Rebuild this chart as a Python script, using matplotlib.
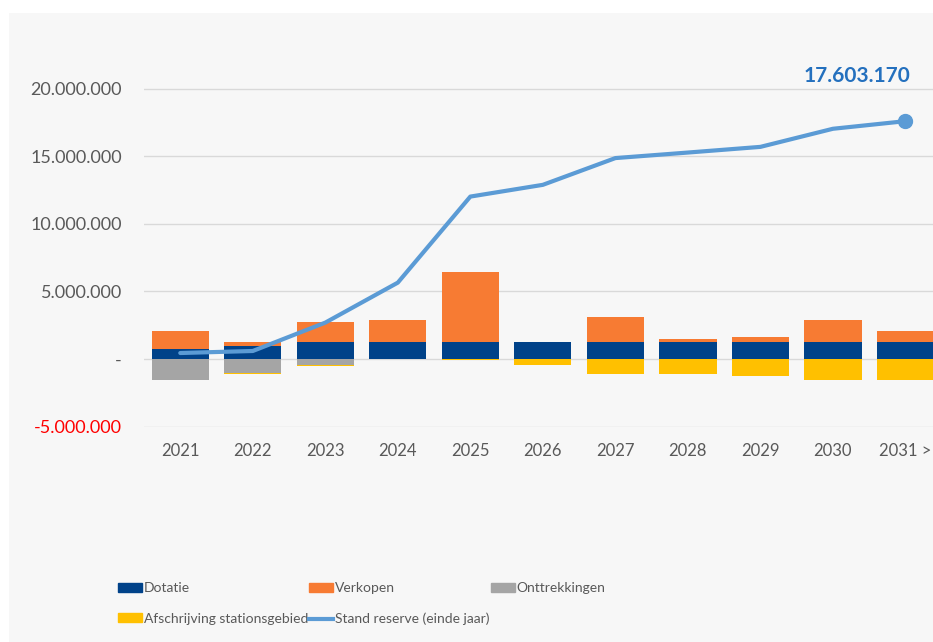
import matplotlib
matplotlib.use("Agg")
import matplotlib.pyplot as plt
import matplotlib.patches as patches
from matplotlib.lines import Line2D
from matplotlib.ticker import FuncFormatter

# ========================
# Data (euro)
# ========================
years = ["2021", "2022", "2023", "2024", "2025", "2026", "2027", "2028", "2029", "2030", "2031 >"]
dotatie = [760000, 990000, 1280000, 1280000, 1280000, 1280000, 1280000, 1280000, 1280000, 1280000, 1280000]
verkopen = [1290000, 250000, 1460000, 1610000, 5140000, 0, 1830000, 200000, 370000, 1630000, 820000]
onttrekkingen = [-1560000, -1060000, -480000, 0, -30000, 0, 0, 0, 0, 0, 0]
afschrijving = [-30000, -40000, -40000, 0, -30000, -440000, -1090000, -1090000, -1230000, -1560000, -1530000]
stand_reserve = [440000, 590000, 2690000, 5650000, 12020000, 12890000, 14870000, 15280000, 15700000, 17040000, 17603170]

C_DOT = "#004289"
C_VERK = "#F77B33"
C_ONTT = "#A5A5A5"
C_AFS = "#FFC000"
C_LINE = "#5B9BD5"
TXT = "#595959"

plt.rcParams["font.family"] = ["Lato", "DejaVu Sans"]

fig = plt.figure(figsize=(9.33, 6.42), dpi=100)
fig.patch.set_facecolor("white")
fig.patches.append(patches.Rectangle((9 / 933, 0), 1, 1 - 13 / 642, transform=fig.transFigure,
                                     facecolor="#F7F7F7", edgecolor="none", zorder=-10))

ax = fig.add_axes([144 / 933, 1 - 426.5 / 642, 1 - 144 / 933, (426.5 - 28) / 642])
ax.set_facecolor("none")

x = list(range(len(years)))
w = 0.79
ax.bar(x, dotatie, w, color=C_DOT, zorder=3)
ax.bar(x, verkopen, w, bottom=dotatie, color=C_VERK, zorder=3)
ax.bar(x, onttrekkingen, w, color=C_ONTT, zorder=3)
ax.bar(x, afschrijving, w, bottom=onttrekkingen, color=C_AFS, zorder=3)
ax.plot(x, stand_reserve, color=C_LINE, lw=3, solid_capstyle="round", zorder=4)
ax.plot(x[-1], stand_reserve[-1], "o", color=C_LINE, ms=10, zorder=5)

last = f"{stand_reserve[-1]:,.0f}".replace(",", ".")
ax.annotate(last, (x[-1], stand_reserve[-1]), xytext=(-35, 25), textcoords="offset points",
            ha="center", va="bottom", fontsize=15, fontweight="bold", color="#2470BE")

ax.set_xlim(-0.5, 10.38)
ax.set_ylim(-5000000, 24500000)
ax.set_yticks([-5000000, 0, 5000000, 10000000, 15000000, 20000000])


def fmt(v, pos):
    if v == 0:
        return "-"
    return f"{v:,.0f}".replace(",", ".")


ax.yaxis.set_major_formatter(FuncFormatter(fmt))
ax.set_xticks(x)
ax.set_xticklabels(years)
ax.grid(axis="y", color="#D9D9D9", lw=1, zorder=0)
for s in ax.spines.values():
    s.set_visible(False)
ax.tick_params(axis="both", length=0, labelsize=12, labelcolor=TXT)
ax.tick_params(axis="y", pad=16, labelsize=13)
ax.tick_params(axis="x", pad=12)
for lab in ax.get_yticklabels():
    if lab.get_text().startswith("-5"):
        lab.set_color("#FF0000")

# Legend (reordered so rows read left to right)
h_dot = patches.Patch(color=C_DOT, label="Dotatie")
h_verk = patches.Patch(color=C_VERK, label="Verkopen")
h_ontt = patches.Patch(color=C_ONTT, label="Onttrekkingen")
h_afs = patches.Patch(color=C_AFS, label="Afschrijving stationsgebied")
h_line = Line2D([], [], color=C_LINE, lw=3, label="Stand reserve (einde jaar)")
handles = [h_dot, h_afs, h_verk, h_line, h_ontt]
fig.legend(handles=handles, labels=[h.get_label() for h in handles], ncol=3,
           loc="upper left", bbox_to_anchor=(118 / 933, 1 - 582 / 642),
           frameon=False, labelcolor=TXT, fontsize=10, handlelength=1.7, handleheight=0.6,
           handletextpad=0.15, columnspacing=0.1, labelspacing=1.35, borderpad=0, borderaxespad=0)

fig.savefig("out.png", dpi=100, facecolor=fig.get_facecolor())
